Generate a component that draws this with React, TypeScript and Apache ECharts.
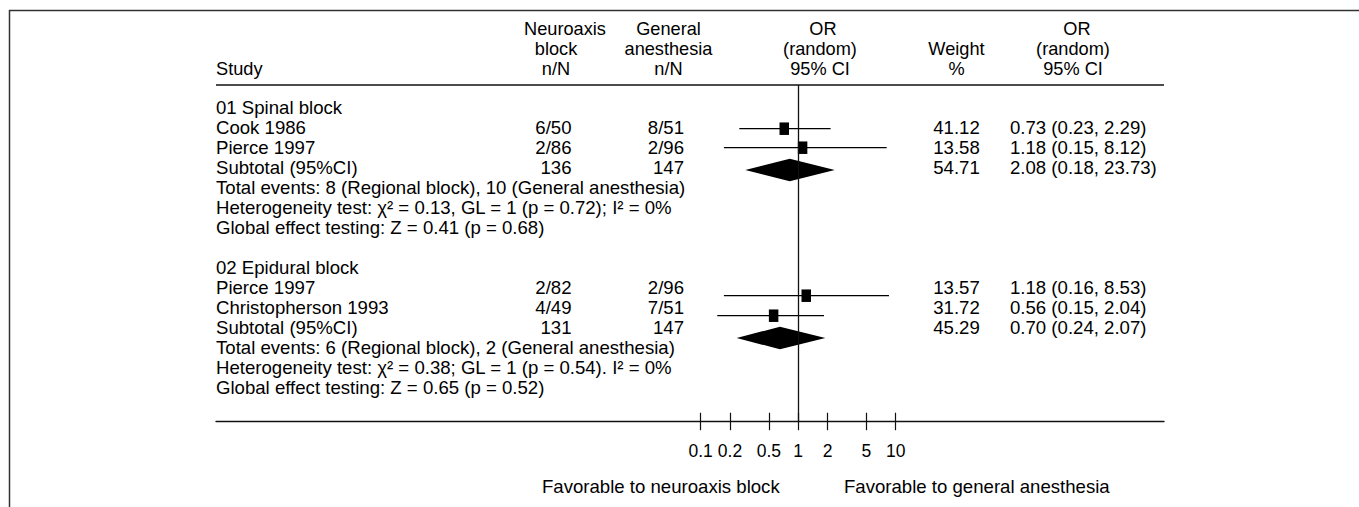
import React, { useEffect, useRef } from "react";
import * as echarts from "echarts";

// ---------------- data ----------------
const groupTitles = ["01 Spinal block", "02 Epidural block"];
const studyNames = [["Cook 1986", "Pierce 1997"], ["Pierce 1997", "Christopherson 1993"]];
const neuroCounts = [["6/50", "2/86"], ["2/82", "4/49"]];
const generalCounts = [["8/51", "2/96"], ["2/96", "7/51"]];
const studyWeights = [["41.12", "13.58"], ["13.57", "31.72"]];
const studyOrText = [["0.73 (0.23, 2.29)", "1.18 (0.15, 8.12)"], ["1.18 (0.16, 8.53)", "0.56 (0.15, 2.04)"]];
const subtotalLabel = "Subtotal (95%CI)";
const subtotalNeuro = ["136", "131"];
const subtotalGeneral = ["147", "147"];
const subtotalWeights = ["54.71", "45.29"];
const subtotalOrText = ["2.08 (0.18, 23.73)", "0.70 (0.24, 2.07)"];
const totalEvents = [
  "Total events: 8 (Regional block), 10 (General anesthesia)",
  "Total events: 6 (Regional block), 2 (General anesthesia)",
];
const heterogeneity = [
  "Heterogeneity test: \u03C7\u00B2 = 0.13, GL = 1 (p = 0.72); I\u00B2 = 0%",
  "Heterogeneity test: \u03C7\u00B2 = 0.38; GL = 1 (p = 0.54). I\u00B2 = 0%",
];
const globalEffect = [
  "Global effect testing: Z = 0.41 (p = 0.68)",
  "Global effect testing: Z = 0.65 (p = 0.52)",
];

// plotted marks
const studyOR = [0.72, 1.11, 1.21, 0.56];
const studyLo = [0.249, 0.173, 0.173, 0.148];
const studyHi = [2.15, 8.09, 8.54, 1.84];
const studyRow = [1.085, 2.035, 9.435, 10.435];
const pooledOR = [0.82, 0.65];
const pooledLo = [0.287, 0.234];
const pooledHi = [2.37, 1.9];
const pooledRow = [3.15, 11.55];

const tickValues = [0.1, 0.2, 0.5, 1, 2, 5, 10];
const favourLeft = "Favorable to neuroaxis block";
const favourRight = "Favorable to general anesthesia";

const headStudy = "Study";
const headNeuro = ["Neuroaxis", "block", "n/N"];
const headGeneral = ["General", "anesthesia", "n/N"];
const headOR = ["OR", "(random)", "95% CI"];
const headWeight = ["Weight", "%"];
const headOR2 = ["OR", "(random)", "95% CI"];

// ---------------- layout ----------------
const W = 1359;
const H = 507;
const FONT = '"Liberation Sans", Arial, Helvetica, sans-serif';
const ROW0_Y = 107;
const ROW_H = 20;
const PLOT_TOP = 85;
const AXIS_Y = 421.7;
const X_LEFT = 216;
const X_RIGHT = 1164;
const LOG_MIN = -5.971;
const LOG_MAX = 3.752;
const Y_MIN = (PLOT_TOP - ROW0_Y) / ROW_H;
const Y_MAX = (AXIS_Y - ROW0_Y) / ROW_H;

const COL_STUDY = 216;
const COL_NEURO_R = 571.5;
const COL_GEN_R = 684;
const COL_WEIGHT_C = 956.5;
const COL_OR_L = 1010;
const BODY = 18.6;
const HEAD = 18.2;

function txt(text: string, x: number, y: number, align = "left", size = BODY) {
  return {
    type: "text",
    silent: true,
    x,
    y,
    style: {
      text,
      fill: "#000",
      font: `${size}px ${FONT}`,
      textAlign: align,
      textVerticalAlign: "middle",
      align,
      verticalAlign: "middle",
    },
  };
}

function hline(x1: number, x2: number, y: number, color = "#111", w = 1.3) {
  return {
    type: "line",
    silent: true,
    shape: { x1, y1: y, x2, y2: y },
    style: { stroke: color, lineWidth: w },
  };
}

function buildGraphics() {
  const els: any[] = [];
  // frame
  els.push(hline(9, W, 10.5, "#333", 1.5));
  els.push({
    type: "line",
    silent: true,
    shape: { x1: 9.5, y1: 10, x2: 9.5, y2: H },
    style: { stroke: "#333", lineWidth: 1.5 },
  });
  // header
  const hy = [28.5, 49, 69.3];
  els.push(txt(headStudy, 216, hy[2], "left", HEAD));
  const neuroX = [565, 556, 556];
  headNeuro.forEach((t, i) => els.push(txt(t, neuroX[i], hy[i], "center", HEAD)));
  headGeneral.forEach((t, i) => els.push(txt(t, 668.5, hy[i], "center", HEAD)));
  const orX = [823, 820, 820];
  headOR.forEach((t, i) => els.push(txt(t, orX[i], hy[i], "center", HEAD)));
  headWeight.forEach((t, i) => els.push(txt(t, 956.5, hy[i + 1], "center", HEAD)));
  const or2X = [1077, 1073, 1073];
  headOR2.forEach((t, i) => els.push(txt(t, or2X[i], hy[i], "center", HEAD)));
  els.push(hline(X_LEFT, X_RIGHT, PLOT_TOP, "#111", 1.4));

  // body
  for (let g = 0; g < 2; g++) {
    const base = g * 8;
    const ry = (r: number) => ROW0_Y + (base + r) * ROW_H;
    els.push(txt(groupTitles[g], COL_STUDY, ry(0)));
    for (let s = 0; s < 2; s++) {
      els.push(txt(studyNames[g][s], COL_STUDY, ry(1 + s)));
      els.push(txt(neuroCounts[g][s], COL_NEURO_R, ry(1 + s), "right"));
      els.push(txt(generalCounts[g][s], COL_GEN_R, ry(1 + s), "right"));
      els.push(txt(studyWeights[g][s], COL_WEIGHT_C, ry(1 + s), "center"));
      els.push(txt(studyOrText[g][s], COL_OR_L, ry(1 + s), "left"));
    }
    els.push(txt(subtotalLabel, COL_STUDY, ry(3)));
    els.push(txt(subtotalNeuro[g], COL_NEURO_R, ry(3), "right"));
    els.push(txt(subtotalGeneral[g], COL_GEN_R, ry(3), "right"));
    els.push(txt(subtotalWeights[g], COL_WEIGHT_C, ry(3), "center"));
    els.push(txt(subtotalOrText[g], COL_OR_L, ry(3), "left"));
    els.push(txt(totalEvents[g], COL_STUDY, ry(4)));
    els.push(txt(heterogeneity[g], COL_STUDY, ry(5)));
    els.push(txt(globalEffect[g], COL_STUDY, ry(6)));
  }
  els.push(txt(favourLeft, 542, 486.7, "left"));
  els.push(txt(favourRight, 844, 486.7, "left"));
  return els;
}

export default function App() {
  const ref = useRef<HTMLDivElement>(null);
  useEffect(() => {
    if (!ref.current) return;
    const chart = echarts.init(ref.current, null, { renderer: "svg" });
    const tickLogs = tickValues.map((v) => Math.log10(v));
    const studyData = studyOR.map((v, i) => [
      Math.log10(v),
      Math.log10(studyLo[i]),
      Math.log10(studyHi[i]),
      studyRow[i],
    ]);
    const pooledData = pooledOR.map((v, i) => [
      Math.log10(v),
      Math.log10(pooledLo[i]),
      Math.log10(pooledHi[i]),
      pooledRow[i],
    ]);
    const fmt = (v: number) => {
      const t = tickValues.find((tv) => Math.abs(Math.log10(tv) - v) < 1e-6);
      return t === undefined ? "" : String(t);
    };
    chart.setOption({
      animation: false,
      backgroundColor: "#fff",
      graphic: { elements: buildGraphics() },
      grid: {
        left: X_LEFT,
        right: W - X_RIGHT,
        top: PLOT_TOP,
        bottom: H - AXIS_Y,
        containLabel: false,
        outerBoundsMode: "none",
      },
      xAxis: [
        {
          type: "value",
          min: LOG_MIN,
          max: LOG_MAX,
          position: "bottom",
          axisLine: { show: true, onZero: false, lineStyle: { color: "#111", width: 1.3 } },
          axisTick: {
            show: true,
            inside: false,
            length: 8.5,
            customValues: tickLogs,
            lineStyle: { color: "#111", width: 1.2 },
          },
          axisLabel: {
            show: true,
            customValues: tickLogs,
            formatter: fmt,
            margin: 20,
            fontSize: 17.5,
            lineHeight: 18,
            fontFamily: FONT,
            color: "#000",
          },
          splitLine: { show: false },
        },
        {
          type: "value",
          min: LOG_MIN,
          max: LOG_MAX,
          position: "bottom",
          axisLine: { show: false, onZero: false },
          axisTick: {
            show: true,
            inside: true,
            length: 9,
            customValues: tickLogs,
            lineStyle: { color: "#111", width: 1.2 },
          },
          axisLabel: { show: false },
          splitLine: { show: false },
        },
      ],
      yAxis: {
        type: "value",
        min: Y_MIN,
        max: Y_MAX,
        inverse: true,
        show: false,
      },
      series: [
        {
          type: "custom",
          name: "studies",
          xAxisIndex: 0,
          clip: false,
          encode: { x: [0, 1, 2], y: 3 },
          data: studyData,
          renderItem: (params: any, api: any) => {
            const row = api.value(3);
            const c = api.coord([api.value(0), row]);
            const lo = api.coord([api.value(1), row]);
            const hi = api.coord([api.value(2), row]);
            return {
              type: "group",
              children: [
                {
                  type: "line",
                  shape: { x1: lo[0], y1: lo[1], x2: hi[0], y2: hi[1] },
                  style: { stroke: "#000", lineWidth: 1.3 },
                },
                {
                  type: "rect",
                  shape: { x: c[0] - 4.75, y: c[1] - 6.25, width: 9.5, height: 12.5 },
                  style: { fill: "#000" },
                },
              ],
            };
          },
          markLine: {
            silent: true,
            symbol: "none",
            label: { show: false },
            lineStyle: { color: "#111", width: 1.3, type: "solid" },
            data: [{ xAxis: 0 }],
          },
        },
        {
          type: "custom",
          name: "pooled",
          xAxisIndex: 0,
          clip: false,
          encode: { x: [0, 1, 2], y: 3 },
          data: pooledData,
          renderItem: (params: any, api: any) => {
            const row = api.value(3);
            const c = api.coord([api.value(0), row]);
            const lo = api.coord([api.value(1), row]);
            const hi = api.coord([api.value(2), row]);
            const h = 11.3;
            return {
              type: "polygon",
              shape: {
                points: [
                  [lo[0], lo[1]],
                  [c[0], c[1] - h],
                  [hi[0], hi[1]],
                  [c[0], c[1] + h],
                ],
              },
              style: { fill: "#000" },
            };
          },
        },
      ],
    });
    return () => chart.dispose();
  }, []);
  return (
    <div
      ref={ref}
      style={{ position: "fixed", left: 0, top: 0, width: W, height: H, background: "#fff" }}
    />
  );
}
